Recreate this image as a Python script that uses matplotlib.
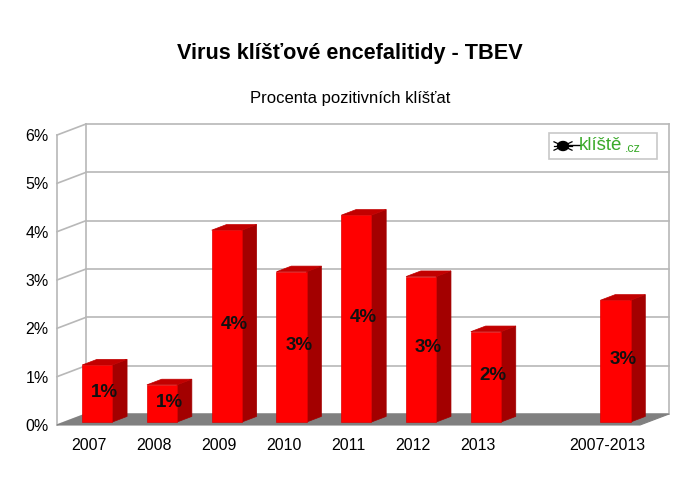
import matplotlib
matplotlib.use("Agg")
import matplotlib.pyplot as plt
from matplotlib.patches import Polygon, Rectangle, Ellipse
import numpy as np

plt.rcParams['font.family'] = ['Liberation Sans', 'DejaVu Sans']

# ---- data ----
categories = ['2007', '2008', '2009', '2010', '2011', '2012', '2013', '', '2007-2013']
values = [1.18, 0.77, 3.97, 3.11, 4.28, 3.01, 1.87, None, 2.52]
labels = ['1%', '1%', '4%', '3%', '4%', '3%', '2%', '', '3%']
yticks = [0, 1, 2, 3, 4, 5, 6]
title = 'Virus klíšťové encefalitidy - TBEV'
subtitle = 'Procenta pozitivních klíšťat'

# ---- geometry (pseudo 3D) ----
W, H = 700, 495
fig = plt.figure(figsize=(W / 100, H / 100), dpi=100)
px_x = 64.78     # pixels per category unit
px_y = 48.33     # pixels per percent
DX = 29 / px_x   # depth offset in x units
DY = 11 / px_y   # depth offset in y units
n = len(categories)
xmin, xmax = -0.5, n - 0.5
ytop = 6.3
ax_left, ax_bottom = 57, H - 425
ax_w = (xmax - xmin + DX) * px_x
ax_h = ytop * px_y
ax = fig.add_axes([ax_left / W, ax_bottom / H, ax_w / W, ax_h / H])
ax.set_xlim(xmin, xmax + DX)
ax.set_ylim(0, ytop)
for s in ax.spines.values():
    s.set_visible(False)

grid_c = '#b8b8b8'
lw = 1.2
# back wall grid
for k in yticks:
    ax.plot([xmin + DX, xmax + DX], [k + DY, k + DY], color=grid_c, lw=lw, zorder=1, clip_on=False)
    ax.plot([xmin, xmin + DX], [k, k + DY], color=grid_c, lw=lw, zorder=1, clip_on=False)
ax.plot([xmin + DX, xmin + DX], [DY, yticks[-1] + DY], color=grid_c, lw=lw, zorder=1, clip_on=False)
ax.plot([xmax + DX, xmax + DX], [DY, yticks[-1] + DY], color=grid_c, lw=lw, zorder=1, clip_on=False)
ax.plot([xmin, xmin], [0, yticks[-1]], color=grid_c, lw=lw, zorder=1, clip_on=False)

# floor
ax.add_patch(Polygon([(xmin, 0), (xmax, 0), (xmax + DX, DY), (xmin + DX, DY)],
                     closed=True, facecolor='#808080', edgecolor='#808080', lw=0.8,
                     zorder=2, clip_on=False))

# bars
d0, d1 = 0.27, 0.78
bw = 0.465
front_c, side_c, top_c = '#ff0000', '#a30000', '#c20000'
xs = np.arange(n)
for i, v in enumerate(values):
    if v is None:
        continue
    xl = xs[i] - bw / 2 + d0 * DX
    xr = xl + bw
    b0 = d0 * DY
    ddx = (d1 - d0) * DX
    ddy = (d1 - d0) * DY
    ax.bar(xl + bw / 2, v, width=bw, bottom=b0, color=front_c, zorder=4,
           edgecolor='#e00000', lw=0.5)
    ax.add_patch(Polygon([(xr, b0), (xr, b0 + v), (xr + ddx, b0 + v + ddy), (xr + ddx, b0 + ddy)],
                         closed=True, facecolor=side_c, edgecolor=side_c, lw=0.5, zorder=3))
    ax.add_patch(Polygon([(xl, b0 + v), (xr, b0 + v), (xr + ddx, b0 + v + ddy), (xl + ddx, b0 + v + ddy)],
                         closed=True, facecolor=top_c, edgecolor=top_c, lw=0.5, zorder=3))
    dm = (d0 + d1) / 2
    ax.text(xs[i] + dm * DX, v / 2 + dm * DY - 0.03, labels[i], ha='center', va='center',
            fontsize=13.5, fontweight='bold', color='#111111', zorder=5)

# ticks
ax.set_xticks(xs)
ax.set_xticklabels(categories, fontsize=11.5)
ax.set_yticks(yticks)
ax.set_yticklabels([f'{k}%' for k in yticks], fontsize=11.5)
ax.tick_params(axis='both', length=0)
ax.tick_params(axis='x', pad=9)
ax.tick_params(axis='y', pad=6)

# logo (decoration)
lx0, lx1 = (549 - ax_left) / ax_w, (657 - ax_left) / ax_w
ly0, ly1 = (425 - 159) / ax_h, (425 - 133) / ax_h
ax.add_patch(Rectangle((lx0, ly0), lx1 - lx0, ly1 - ly0, transform=ax.transAxes,
                       facecolor='white', edgecolor='#c8c8c8', lw=1.2, zorder=6))
cy = (ly0 + ly1) / 2
bx = (563 - ax_left) / ax_w
ax.add_patch(Ellipse((bx, cy), 11 / ax_w, 9 / ax_h, transform=ax.transAxes,
                     facecolor='black', edgecolor='black', zorder=7))
for a in [-0.6, 0, 0.6]:
    ax.plot([bx - 9 / ax_w, bx + 9 / ax_w],
            [cy + a * 7 / ax_h, cy - a * 7 / ax_h], transform=ax.transAxes,
            color='black', lw=0.9, zorder=7)
ax.plot([bx, bx + 17 / ax_w], [cy + 1 / ax_h, cy + 1 / ax_h], transform=ax.transAxes,
        color='black', lw=1.0, zorder=7)
ax.text((579 - ax_left) / ax_w, cy + 1 / ax_h, 'klíště', transform=ax.transAxes,
        ha='left', va='center', fontsize=13.5, color='#3aaa2a', zorder=7)
ax.text((625 - ax_left) / ax_w, cy - 3 / ax_h, '.cz', transform=ax.transAxes,
        ha='left', va='center', fontsize=9, color='#3aaa2a', zorder=7)

# titles
fig.text(350 / W, 1 - 54 / H, title, ha='center', va='center', fontsize=15.6, fontweight='bold', color='black')
fig.text(350 / W, 1 - 99 / H, subtitle, ha='center', va='center', fontsize=12, color='black')

fig.savefig('out.png', dpi=100, facecolor='white')
